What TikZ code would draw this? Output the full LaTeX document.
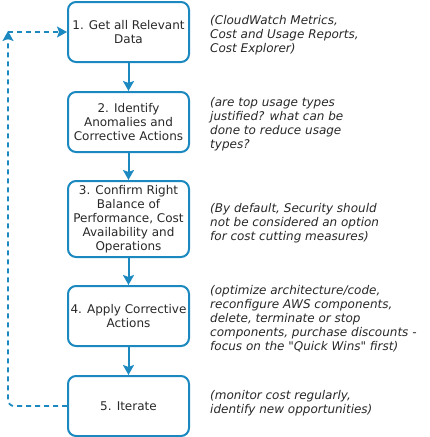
\documentclass[tikz,border=0pt]{standalone}
\usepackage{fontspec}
\setmainfont{DejaVu Sans}
\usepackage{tikz}
\usetikzlibrary{arrows.meta}
\definecolor{awsblue}{RGB}{27,137,192}
\definecolor{txtgray}{RGB}{40,40,40}

\begin{document}
\begin{tikzpicture}[x=1pt, y=-1pt,
  stepbox/.style={rectangle, draw=awsblue, line width=2pt, rounded corners=8pt, minimum width=121pt, minimum height=60pt, align=center, text=txtgray, font=\fontsize{12}{14}\selectfont, inner sep=1pt},
  note/.style={anchor=west, align=left, text=txtgray, font=\fontsize{12}{14}\selectfont\itshape, inner sep=0pt},
  flow/.style={draw=awsblue, line width=2pt, -{Stealth[length=10pt, width=11pt, inset=2pt]}},
  back/.style={draw=awsblue, line width=1.8pt, dash pattern=on 5pt off 4pt, -{Stealth[length=10pt, width=11pt, inset=2pt]}}]

\useasboundingbox (0,0) rectangle (429,437);

\node(1) [stepbox] at (128.5,32) {1. Get all Relevant\\Data};
\node(2) [stepbox] at (128.5,122) {2. Identify\\Anomalies and\\Corrective Actions};
\node(3) [stepbox, minimum height=76pt] at (128.5,219) {3. Confirm Right\\Balance of\\Performance, Cost\\Availability and\\Operations};
\node(4) [stepbox] at (128.5,316) {4. Apply Corrective\\Actions};
\node(5) [stepbox] at (128.5,406) {5. Iterate};

\node(n1) [note] at (210,35) {(CloudWatch Metrics,\\Cost and Usage Reports,\\Cost Explorer)};
\node(n2) [note] at (210,124) {(are top usage types\\justified? what can be\\done to reduce usage\\types?};
\node(n3) [note] at (210,223) {(By default, Security should\\not be considered an option\\for cost cutting measures)};
\node(n4) [note] at (210,319) {(optimize architecture/code,\\reconfigure AWS components,\\delete, terminate or stop\\components, purchase discounts -\\focus on the \textquotedbl Quick Wins\textquotedbl{} first)};
\node(n5) [note] at (210,403) {(monitor cost regularly,\\identify new opportunities)};

\draw[flow] (1) -- (2);
\draw[flow] (2) -- (3);
\draw[flow] (3) -- (4);
\draw[flow] (4) -- (5);

\coordinate(corner) at (8,32);
\draw[back, rounded corners=6pt] (5.west) -| ([yshift=1pt]corner);
\draw[back] (corner) -- (1.west);

\end{tikzpicture}
\end{document}
